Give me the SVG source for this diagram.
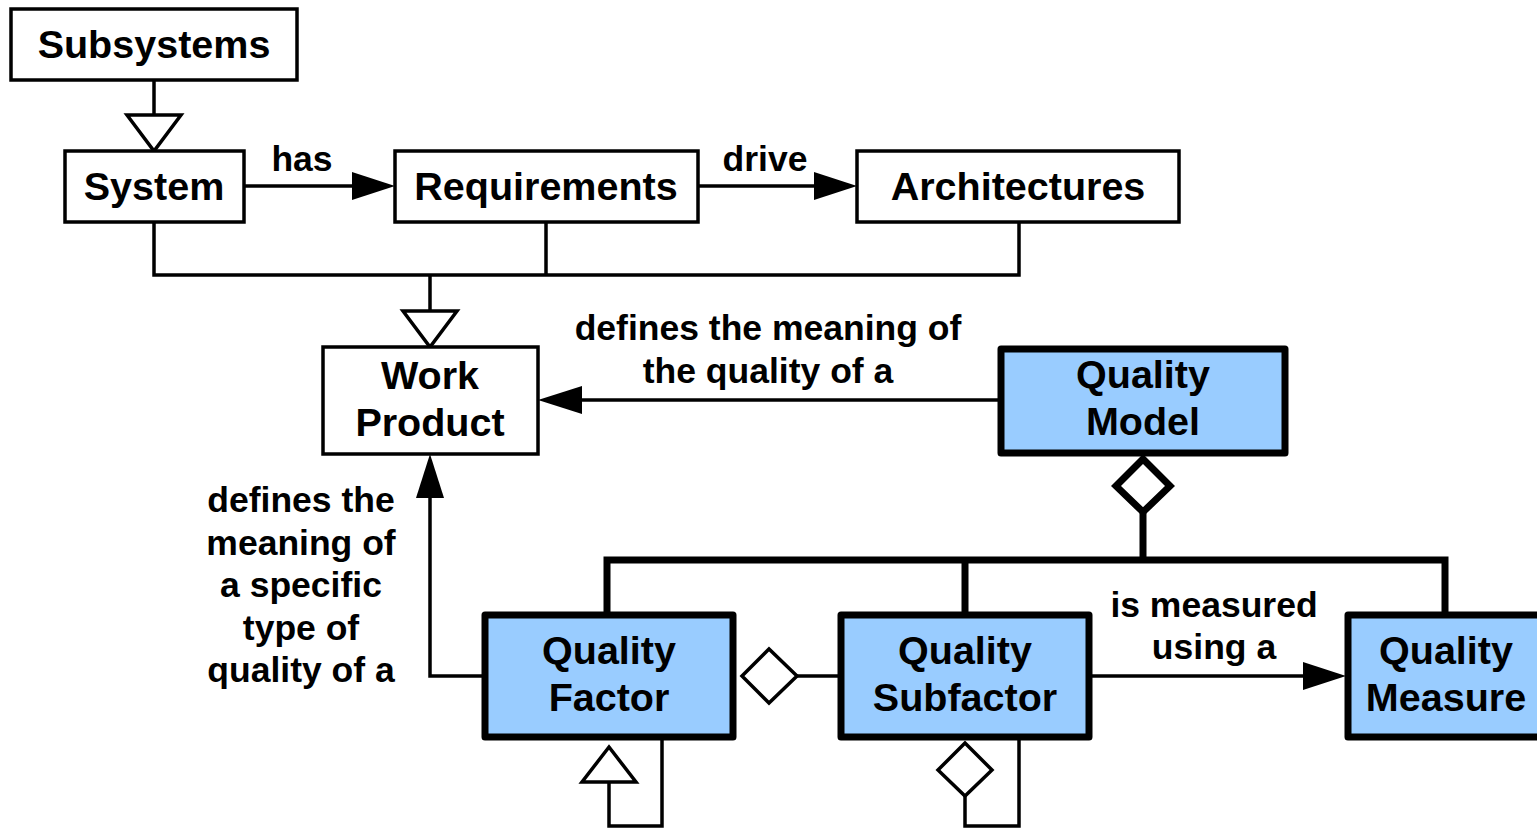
<svg xmlns="http://www.w3.org/2000/svg" width="1537" height="828" viewBox="0 0 1537 828">
<style>
.n{fill:#fff;stroke:#000;stroke-width:3.5}
.q{fill:#99ccff;stroke:#000;stroke-width:7;stroke-linejoin:round}
.t{font-family:"Liberation Sans",Arial,sans-serif;font-weight:bold;font-size:39.5px;text-anchor:middle;fill:#000}
.l{font-family:"Liberation Sans",Arial,sans-serif;font-weight:bold;font-size:35.5px;text-anchor:middle;fill:#000}
.c{fill:none;stroke:#000;stroke-width:3.5}
.ck{fill:none;stroke:#000;stroke-width:7}
.h{fill:#000;stroke:none}
.o{fill:#fff;stroke:#000;stroke-width:3.5;stroke-linejoin:miter}
</style>
<rect width="1537" height="828" fill="#fff"/>
<g id="connectors">
<path class="c" d="M154,80V115"/>
<polygon class="o" points="127,115 181,115 154,151"/>
<path class="c" d="M154,222V275H1019V222M546,222V275M430,275V311"/>
<polygon class="o" points="403,311 457,311 430,347"/>
<path class="c" d="M244,186H360"/>
<polygon class="h" points="352,172 395,186 352,200"/>
<path class="c" d="M698,186H820"/>
<polygon class="h" points="814,172 857,186 814,200"/>
<path class="c" d="M999,400H575"/>
<polygon class="h" points="582,386 538,400 582,414"/>
<path class="c" d="M483,676H430V490"/>
<polygon class="h" points="416,498 430,454 444,498"/>
<polygon points="1143,459 1170,486 1143,512 1116,486" fill="#fff" stroke="#000" stroke-width="7"/>
<path class="ck" d="M1143,512V560M607,613V560H1445V613M965,560V613"/>
<polygon class="o" points="742,676 769,649 797,676 769,703"/>
<path class="c" d="M797,676H839"/>
<path class="c" d="M1090,676H1310"/>
<polygon class="h" points="1303,662 1346,676 1303,690"/>
<polygon class="o" points="609,747 636,782 582,782"/>
<path class="c" d="M609,782V826H662V739"/>
<polygon class="o" points="965,743 992,770 965,796 938,770"/>
<path class="c" d="M965,796V826H1019V739"/>
<text class="l" x="302" y="171">has</text>
<text class="l" x="765" y="171">drive</text>
<text class="l" x="768" y="340">defines the meaning of</text>
<text class="l" x="768" y="383">the quality of a</text>
<text class="l" x="301" y="512">defines the</text>
<text class="l" x="301" y="555">meaning of</text>
<text class="l" x="301" y="597">a specific</text>
<text class="l" x="301" y="640">type of</text>
<text class="l" x="301" y="682">quality of a</text>
<text class="l" x="1214" y="617">is measured</text>
<text class="l" x="1214" y="659">using a</text>
</g>
<g id="subsystems"><rect class="n" x="11" y="9" width="286" height="71"/><text class="t" x="154" y="58">Subsystems</text></g>
<g id="system"><rect class="n" x="65" y="151" width="179" height="71"/><text class="t" x="154" y="200">System</text></g>
<g id="requirements"><rect class="n" x="395" y="151" width="303" height="71"/><text class="t" x="546" y="200">Requirements</text></g>
<g id="architectures"><rect class="n" x="857" y="151" width="322" height="71"/><text class="t" x="1018" y="200">Architectures</text></g>
<g id="work-product"><rect class="n" x="323" y="347" width="215" height="107"/><text class="t" x="430" y="389">Work</text><text class="t" x="430" y="436">Product</text></g>
<g id="quality-model"><rect class="q" x="1001" y="349" width="284" height="104"/><text class="t" x="1143" y="388">Quality</text><text class="t" x="1143" y="435">Model</text></g>
<g id="quality-factor"><rect class="q" x="485" y="615" width="248" height="122"/><text class="t" x="609" y="664">Quality</text><text class="t" x="609" y="711">Factor</text></g>
<g id="quality-subfactor"><rect class="q" x="841" y="615" width="248" height="122"/><text class="t" x="965" y="664">Quality</text><text class="t" x="965" y="711">Subfactor</text></g>
<g id="quality-measure"><rect class="q" x="1348" y="615" width="200" height="122"/><text class="t" x="1446" y="664">Quality</text><text class="t" x="1446" y="711">Measure</text></g>
</svg>
